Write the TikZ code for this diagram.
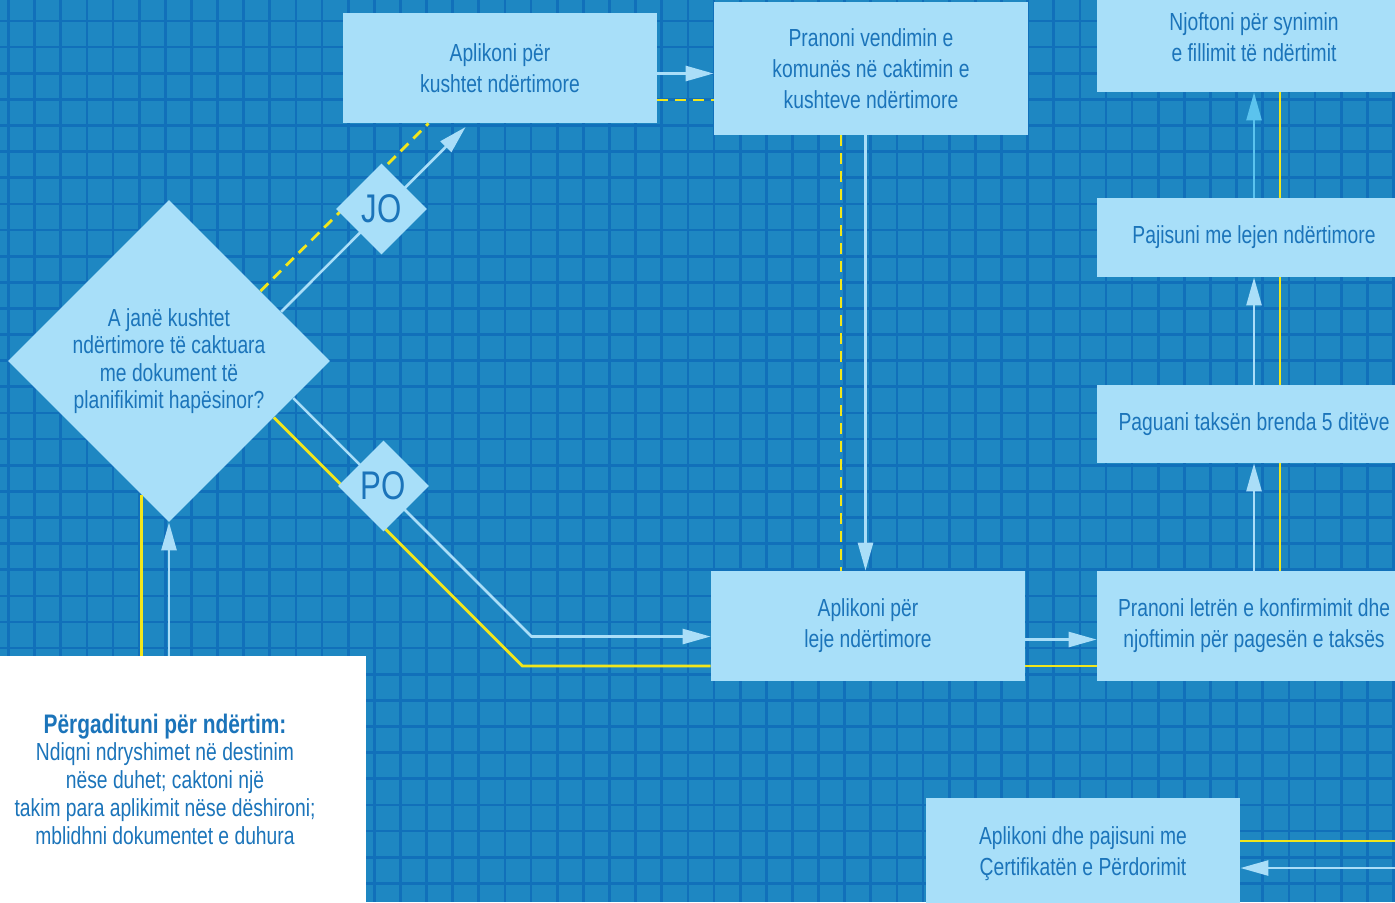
\documentclass[tikz,border=0pt]{standalone}
\usepackage{fontspec}
\newfontfamily\condfont{Liberation Sans}[FakeStretch=0.78]
\usetikzlibrary{shapes.geometric,arrows.meta,calc}
\definecolor{bgblue}{HTML}{1E87C2}
\definecolor{gridblue}{HTML}{1170BA}
\definecolor{boxblue}{HTML}{A8DFF9}
\definecolor{textblue}{HTML}{1B74BA}
\definecolor{flowblue}{HTML}{AADEF8}
\definecolor{flowcyan}{HTML}{5BC3EE}
\definecolor{ylw}{HTML}{F2E61B}
\tikzset{
  stepbox/.style={rectangle, fill=boxblue, text=textblue, align=center, inner sep=0pt,
    minimum width=157pt, font=\condfont\fontsize{12.35}{15.5}\selectfont},
  choice/.style={diamond, aspect=1, fill=boxblue, text=textblue, align=center, inner sep=0pt},
  gridline/.style={draw=gridblue, line width=1.35pt},
  flow/.style={draw=flowblue, line width=1.3pt, -{Triangle[length=14pt,width=7.5pt]}},
  track/.style={draw=ylw, line width=1.4pt},
  trackdash/.style={track, dash pattern=on 5.5pt off 3.5pt},
}

\begin{document}
\begin{tikzpicture}[x=0.5pt,y=-0.5pt]
	\useasboundingbox (0,0) rectangle (1395,902);
	\fill[bgblue] (0,0) rectangle (1395,902);
	\foreach \i in {0,...,53}
		\draw[gridline] ({8.5+26.13*\i},0) -- ++(0,902);
	\foreach \j in {0,...,34}
		\draw[gridline] (0,{21+26.13*\j}) -- ++(1395,0);

	\node[stepbox, minimum height=55pt] (kushtet) at (500,68) {Aplikoni për\\kushtet ndërtimore};
	\node[stepbox, minimum height=66.5pt] (vendimi) at (871,68.5) {Pranoni vendimin e\\komunës në caktimin e\\kushteve ndërtimore};
	\node[stepbox, minimum height=55pt] (njoftimi) at (1254,37) {Njoftoni për synimin\\e fillimit të ndërtimit};
	\node[stepbox, minimum height=39.5pt] (leja) at (1254,237.5) {Pajisuni me lejen ndërtimore};
	\node[stepbox, minimum height=39pt] (taksa) at (1254,424) {Paguani taksën brenda 5 ditëve};
	\node[stepbox, minimum height=55pt] (letra) at (1254,626) {Pranoni letrën e konfirmimit dhe\\njoftimin për pagesën e taksës};
	\node[stepbox, minimum height=55pt] (aplikimi) at (868,626) {Aplikoni për\\leje ndërtimore};
	\node[stepbox, minimum height=55.5pt] (certifikata) at (1083,853.5) {Aplikoni dhe pajisuni me\\Çertifikatën e Përdorimit};
	\node[fill=white, text=textblue, align=center, inner sep=0pt, minimum width=201pt, minimum height=123pt,
		font=\condfont\fontsize{12.35}{13.85}\selectfont] (pergatitja) at (165,779)
		{{\bfseries\fontsize{13.4}{14}\selectfont Përgadituni për ndërtim:}\\Ndiqni ndryshimet në destinim\\nëse duhet; caktoni një\\takim para aplikimit nëse dëshironi;\\mblidhni dokumentet e duhura};
	\node[choice, minimum width=161pt, minimum height=161pt, font=\condfont\fontsize{12.35}{13.75}\selectfont] (pyetja) at (169,361)
		{A janë kushtet\\ndërtimore të caktuara\\me dokument të\\planifikimit hapësinor?};

	\coordinate (joEnd) at (465.6,127);
	\coordinate (poBend) at (531.5,636.5);
	\coordinate (poBendY) at (522.4,666);
	\coordinate (rowAB) at (0,73.5);
	\coordinate (rowABd) at (0,100);
	\coordinate (colBG) at (865.5,0);
	\coordinate (colBGd) at (841,0);
	\coordinate (rowGF) at (0,639.5);
	\coordinate (colYl) at (1280,0);
	\coordinate (rowHa) at (1400,868);
	\coordinate (rowHy) at (1400,841);
	\coordinate (qEdge) at ($(pyetja.west)!0.832!(pyetja.south)$);

	\draw[trackdash] ($(pyetja.north)!0.567!(pyetja.east)$) -- ($(kushtet.south west)!0.273!(kushtet.south east)$);
	\draw[flow] ($(pyetja.north)!0.695!(pyetja.east)$) -- (joEnd);
	\draw[track] ($(pyetja.east)!0.35!(pyetja.south)$) -- (poBendY) -- (aplikimi.west |- poBendY);
	\draw[flow] ($(pyetja.east)!0.23!(pyetja.south)$) -- (poBend) -- (aplikimi.west |- poBend);
	\draw[trackdash] (kushtet.east |- rowABd) -- (vendimi.west |- rowABd);
	\draw[flow] (kushtet.east |- rowAB) -- (vendimi.west |- rowAB);
	\draw[trackdash] (vendimi.south -| colBGd) -- (aplikimi.north -| colBGd);
	\draw[flow] (vendimi.south -| colBG) -- (aplikimi.north -| colBG);
	\draw[track] (aplikimi.east |- poBendY) -- (letra.west |- poBendY);
	\draw[flow] (aplikimi.east |- rowGF) -- (letra.west |- rowGF);
	\draw[track] (letra.north -| colYl) -- (taksa.south -| colYl);
	\draw[track] (taksa.north -| colYl) -- (leja.south -| colYl);
	\draw[track] (leja.north -| colYl) -- (njoftimi.south -| colYl);
	\draw[flow] (letra.north) -- (taksa.south);
	\draw[flow] (taksa.north) -- (leja.south);
	\draw[flow, draw=flowcyan] (leja.north) -- (njoftimi.south);
	\draw[track] (pergatitja.north -| qEdge) -- (qEdge);
	\draw[flow] (pergatitja.north -| pyetja.south) -- (pyetja.south);
	\draw[track] (certifikata.east |- rowHy) -- (rowHy);
	\draw[flow] (rowHa) -- (certifikata.east |- rowHa);

	\node[choice, minimum width=45.5pt, minimum height=45.5pt, font=\condfont\fontsize{20}{20}\selectfont] (jo) at (381.5,209) {JO};
	\node[choice, minimum width=45.5pt, minimum height=45.5pt, font=\condfont\fontsize{20}{20}\selectfont] (po) at (383.5,486) {PO};
\end{tikzpicture}
\end{document}
